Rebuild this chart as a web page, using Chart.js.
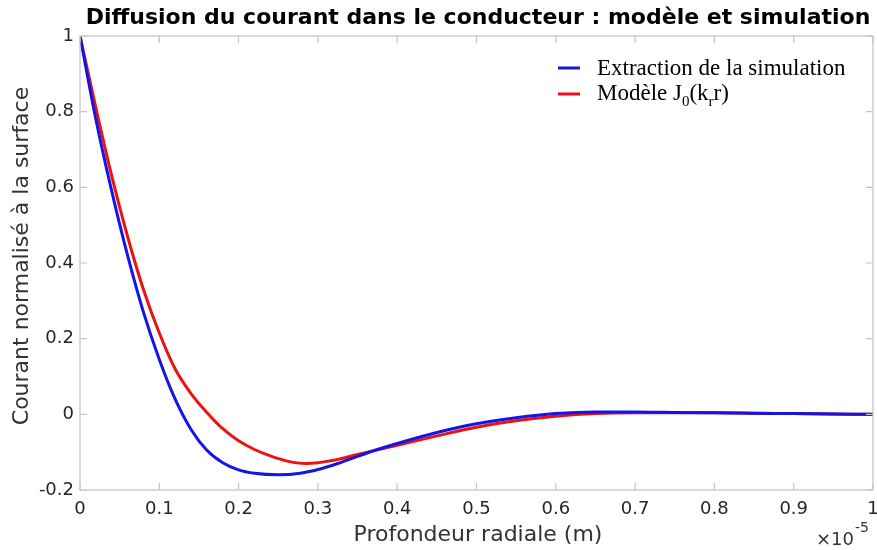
<!DOCTYPE html>
<html>
<head>
<meta charset="utf-8">
<script src="https://cdn.jsdelivr.net/npm/chart.js@4"></script>
<style>
  html, body { margin: 0; padding: 0; background: #fff; }
  #wrap { width: 877px; height: 550px; position: relative; }
</style>
</head>
<body>
<div id="wrap"><canvas id="c" width="877" height="550"></canvas></div>
<script>
// Depth below the surface (units of 1e-5 m) and normalised current density
const simDepth   = [0, 0.02, 0.04, 0.06, 0.08, 0.10, 0.12, 0.14, 0.16, 0.18, 0.20, 0.22, 0.25, 0.28, 0.30, 0.325, 0.35, 0.375, 0.40, 0.45, 0.50, 0.55, 0.60, 0.65, 0.70, 0.75, 0.80, 0.85, 0.90, 0.95, 1.0];
const simCurrent = [1.0, 0.78, 0.59, 0.42, 0.27, 0.145, 0.04, -0.04, -0.095, -0.128, -0.147, -0.156, -0.160, -0.155, -0.146, -0.130, -0.111, -0.093, -0.077, -0.048, -0.025, -0.009, 0.002, 0.006, 0.006, 0.005, 0.004, 0.003, 0.002, 0.001, 0.0];

const modelDepth   = [0, 0.02, 0.04, 0.06, 0.08, 0.10, 0.12, 0.14, 0.16, 0.18, 0.20, 0.22, 0.24, 0.26, 0.285, 0.30, 0.325, 0.35, 0.375, 0.40, 0.45, 0.50, 0.55, 0.60, 0.65, 0.70, 0.75, 0.80, 0.85, 0.90, 0.95, 1.0];
const modelCurrent = [1.0, 0.81, 0.63, 0.47, 0.33, 0.215, 0.12, 0.055, 0.005, -0.038, -0.07, -0.093, -0.11, -0.123, -0.130, -0.128, -0.119, -0.106, -0.094, -0.082, -0.057, -0.034, -0.017, -0.005, 0.002, 0.004, 0.004, 0.004, 0.003, 0.002, 0.001, 0.0];

const xTickValues = [0, 0.1, 0.2, 0.3, 0.4, 0.5, 0.6, 0.7, 0.8, 0.9, 1];
const yTickValues = [-0.2, 0, 0.2, 0.4, 0.6, 0.8, 1];

const titleText  = 'Diffusion du courant dans le conducteur : modèle et simulation';
const xLabelText = 'Profondeur radiale (m)';
const yLabelText = 'Courant normalisé à la surface';
const seriesNames = ['Extraction de la simulation', 'Modèle J'];

const BLUE = '#1414e6';
const RED  = '#ee1111';
const FRAME = '#c4c4c4';
const SANS = '"DejaVu Sans", sans-serif';
const SERIF = '"Liberation Serif", "Times New Roman", serif';

function pts(xs, ys) { return xs.map((x, i) => ({ x: x, y: ys[i] })); }
function fmt(v) {
  const r = Math.round(v * 10) / 10;
  return Number.isInteger(r) ? String(r) : r.toFixed(1);
}

// Frame, inward tick marks on all four sides, titles, exponent and legend
const decorations = {
  id: 'decorations',
  afterDraw(chart) {
    const ctx = chart.ctx;
    const a = chart.chartArea;
    const xs = chart.scales.x, ys = chart.scales.y;
    ctx.save();
    ctx.strokeStyle = FRAME;
    ctx.lineWidth = 1.2;
    ctx.strokeRect(a.left, a.top, a.right - a.left, a.bottom - a.top);
    const tl = 7;
    ctx.beginPath();
    xTickValues.forEach(v => {
      const px = xs.getPixelForValue(v);
      ctx.moveTo(px, a.bottom); ctx.lineTo(px, a.bottom - tl);
      ctx.moveTo(px, a.top); ctx.lineTo(px, a.top + tl);
    });
    yTickValues.forEach(v => {
      const py = ys.getPixelForValue(v);
      ctx.moveTo(a.left, py); ctx.lineTo(a.left + tl, py);
      ctx.moveTo(a.right, py); ctx.lineTo(a.right - tl, py);
    });
    ctx.stroke();

    // title
    ctx.fillStyle = '#000';
    ctx.font = 'bold 22px ' + SANS;
    ctx.textAlign = 'center';
    ctx.textBaseline = 'middle';
    ctx.fillText(titleText, 478, 18);

    // axis titles
    ctx.fillStyle = '#333';
    ctx.font = '22px ' + SANS;
    ctx.fillText(xLabelText, 478, 535);
    ctx.save();
    ctx.translate(22, 256);
    ctx.rotate(-Math.PI / 2);
    ctx.fillText(yLabelText, 0, 0);
    ctx.restore();

    // scale exponent
    ctx.textAlign = 'left';
    ctx.font = '18px ' + SANS;
    ctx.fillText('\u00d710', 816, 540);
    ctx.font = '14px ' + SANS;
    ctx.fillText('-5', 855, 528);

    // legend
    const lx = 558, lw = 22, tx = 597;
    const rows = [68, 94];
    const cols = [BLUE, RED];
    ctx.lineWidth = 3;
    rows.forEach((y, i) => {
      ctx.strokeStyle = cols[i];
      ctx.beginPath(); ctx.moveTo(lx, y); ctx.lineTo(lx + lw, y); ctx.stroke();
    });
    ctx.fillStyle = '#000';
    ctx.textBaseline = 'alphabetic';
    ctx.font = '23px ' + SERIF;
    ctx.fillText(seriesNames[0], tx, 75);
    // Modèle J0(kr r) with subscripts
    let x = tx;
    const base = 100;
    const seg = (t, size, dy) => {
      ctx.font = size + 'px ' + SERIF;
      ctx.fillText(t, x, base + dy);
      x += ctx.measureText(t).width;
    };
    seg(seriesNames[1], 23, 0);
    seg('0', 15, 6);
    seg('(k', 23, 0);
    seg('r', 15, 6);
    seg('r)', 23, 0);
    ctx.restore();
  }
};

new Chart(document.getElementById('c'), {
  type: 'line',
  data: {
    datasets: [
      { label: seriesNames[0], data: pts(simDepth, simCurrent), borderColor: BLUE, borderWidth: 3, pointRadius: 0, cubicInterpolationMode: 'monotone', fill: false },
      { label: seriesNames[1], data: pts(modelDepth, modelCurrent), borderColor: RED, borderWidth: 3, pointRadius: 0, cubicInterpolationMode: 'monotone', fill: false }
    ]
  },
  options: {
    responsive: false,
    animation: false,
    events: [],
    layout: { padding: { top: 36, right: 4, left: 0, bottom: 0 } },
    plugins: { legend: { display: false }, title: { display: false }, tooltip: { enabled: false } },
    scales: {
      x: {
        type: 'linear', min: 0, max: 1,
        grid: { display: false, drawTicks: false },
        border: { display: false },
        afterBuildTicks(s) { s.ticks = xTickValues.map(v => ({ value: v })); },
        afterFit(s) { s.height = 60; s.paddingLeft = 0; s.paddingRight = 0; },
        ticks: { padding: 9, color: '#262626', font: { family: SANS, size: 18 }, maxRotation: 0, autoSkip: false, callback: v => fmt(v) }
      },
      y: {
        type: 'linear', min: -0.2, max: 1,
        grid: { display: false, drawTicks: false },
        border: { display: false },
        afterBuildTicks(s) { s.ticks = yTickValues.map(v => ({ value: v })); },
        afterFit(s) { s.width = 80; s.paddingTop = 0; s.paddingBottom = 0; },
        ticks: { padding: 6, color: '#262626', font: { family: SANS, size: 18 }, autoSkip: false, callback: v => fmt(v) }
      }
    }
  },
  plugins: [decorations]
});
</script>
</body>
</html>
